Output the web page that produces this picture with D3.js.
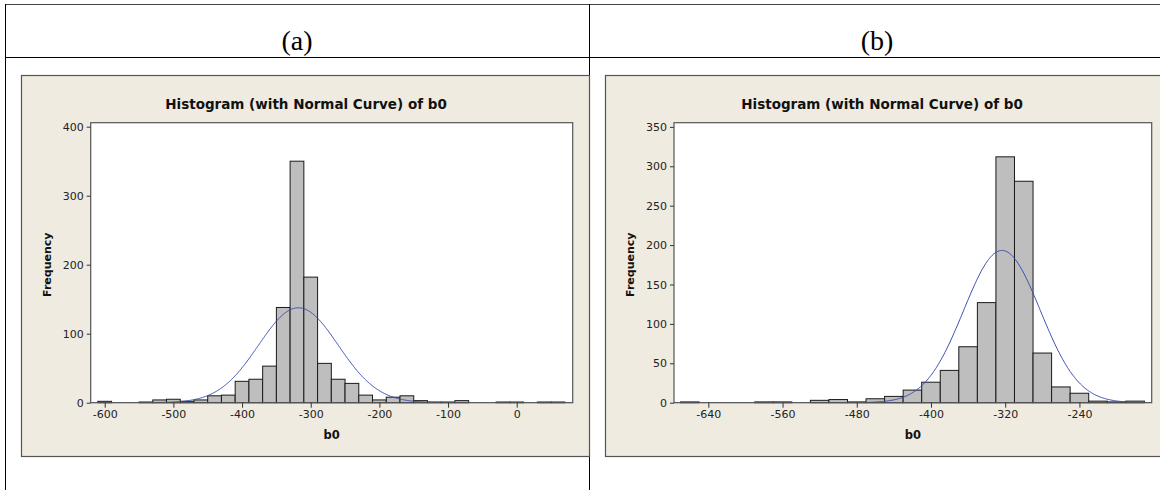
<!DOCTYPE html>
<html>
<head>
<meta charset="utf-8">
<script src="https://cdn.jsdelivr.net/npm/d3@7"></script>
<style>
  html, body { margin: 0; padding: 0; background: #ffffff; }
  svg { display: block; }
</style>
</head>
<body>
<svg id="chart" width="1160" height="490"></svg>
<script>
// ---------------- DATA ----------------
const panelLabels = ["(a)", "(b)"];
const chartTitle = "Histogram (with Normal Curve) of b0";
const xLabel = "b0";
const yLabel = "Frequency";
const binWidth = 20;

// Panel (a)
const binsA   = [-600,-540,-520,-500,-480,-460,-440,-420,-400,-380,-360,-340,-320,-300,-280,-260,-240,-220,-200,-180,-160,-140,-120,-100,-80,-20,0,40,60];
const countsA = [2,1,4,5,2,4,10,11,31,34,53,138,350,182,57,34,28,11,4,8,10,3,1,1,3,1,1,1,1];
const xTicksA = [-600,-500,-400,-300,-200,-100,0];
const yTicksA = [0,100,200,300,400];
const xDomainA = [-620.4, 81.5];
const yDomainA = [0, 405.8];
const meanA = -318, sdA = 58, nA = 1000;

// Panel (b)
const binsB   = [-660,-580,-560,-520,-500,-480,-460,-440,-420,-400,-380,-360,-340,-320,-300,-280,-260,-240,-220,-200,-180];
const countsB = [1,1,1,3,4,1,5,8,16,26,41,71,127,312,281,63,20,12,2,1,2];
const xTicksB = [-640,-560,-480,-400,-320,-240];
const yTicksB = [0,50,100,150,200,250,300,350];
const xDomainB = [-677, -162.1];
const yDomainB = [0, 355.3];
const meanB = -323.5, sdB = 41.3, nB = 1000;

// ---------------- DRAW ----------------
const svg = d3.select("#chart");
const FONT = "'DejaVu Sans', Verdana, sans-serif";

// table grid
const grid = svg.append("g").attr("stroke", "#000").attr("stroke-width", 1).attr("shape-rendering", "crispEdges");
grid.append("line").attr("x1", 5).attr("x2", 1160).attr("y1", 4.5).attr("y2", 4.5).attr("stroke", "#444");
grid.append("line").attr("x1", 5).attr("x2", 1160).attr("y1", 57.5).attr("y2", 57.5);
grid.append("line").attr("x1", 5.5).attr("x2", 5.5).attr("y1", 4).attr("y2", 490);
grid.append("line").attr("x1", 589.5).attr("x2", 589.5).attr("y1", 4).attr("y2", 490);

svg.append("text").attr("x", 297).attr("y", 50).attr("text-anchor", "middle")
  .attr("font-family", "'Liberation Serif', 'Times New Roman', serif").attr("font-size", 28)
  .attr("fill", "#000").text(panelLabels[0]);
svg.append("text").attr("x", 877).attr("y", 50).attr("text-anchor", "middle")
  .attr("font-family", "'Liberation Serif', 'Times New Roman', serif").attr("font-size", 28)
  .attr("fill", "#000").text(panelLabels[1]);

function drawPanel(cfg) {
  const g = svg.append("g");
  // panel background
  g.append("rect").attr("x", cfg.frame[0] + 0.5).attr("y", cfg.frame[1] + 0.5)
    .attr("width", cfg.frame[2] - cfg.frame[0]).attr("height", cfg.frame[3] - cfg.frame[1])
    .attr("fill", "#F0EBE0").attr("stroke", "#555").attr("stroke-width", 1.2);

  const [L, R, T, B] = cfg.plot;
  const x = d3.scaleLinear().domain(cfg.xDomain).range([L, R]);
  const y = d3.scaleLinear().domain(cfg.yDomain).range([B, T]);

  g.append("rect").attr("x", L).attr("y", T).attr("width", R - L).attr("height", B - T)
    .attr("fill", "#fff");

  const clipId = "clip" + cfg.id;
  svg.append("clipPath").attr("id", clipId).append("rect")
    .attr("x", L).attr("y", T).attr("width", R - L).attr("height", B - T);

  // bars
  g.append("g").selectAll("rect").data(cfg.bins.map((c, i) => ({c, n: cfg.counts[i]})))
    .join("rect")
    .attr("x", d => x(d.c - binWidth / 2))
    .attr("width", d => x(d.c + binWidth / 2) - x(d.c - binWidth / 2))
    .attr("y", d => y(d.n))
    .attr("height", d => y(0) - y(d.n))
    .attr("fill", "#BEBEBE").attr("stroke", "#1a1a1a").attr("stroke-width", 1);

  // normal curve
  const pdf = v => cfg.n * binWidth / (cfg.sd * Math.sqrt(2 * Math.PI)) * Math.exp(-((v - cfg.mean) ** 2) / (2 * cfg.sd * cfg.sd));
  const xs = d3.range(cfg.xDomain[0], cfg.xDomain[1], 1);
  g.append("path").datum(xs)
    .attr("clip-path", `url(#${clipId})`)
    .attr("d", d3.line().x(v => x(v)).y(v => y(pdf(v))))
    .attr("fill", "none").attr("stroke", "#3B4FB0").attr("stroke-width", 1);

  // plot border
  g.append("rect").attr("x", L).attr("y", T).attr("width", R - L).attr("height", B - T)
    .attr("fill", "none").attr("stroke", "#555").attr("stroke-width", 1.2);

  // axes
  const xAxis = d3.axisBottom(x).tickValues(cfg.xTicks).tickSize(5).tickPadding(3).tickFormat(d3.format("d"));
  const yAxis = d3.axisLeft(y).tickValues(cfg.yTicks).tickSize(4).tickPadding(3).tickFormat(d3.format("d"));
  const gx = g.append("g").attr("transform", `translate(0,${B})`).call(xAxis);
  const gy = g.append("g").attr("transform", `translate(${L},0)`).call(yAxis);
  [gx, gy].forEach(ax => {
    ax.select(".domain").remove();
    ax.selectAll(".tick line").attr("stroke", "#333");
    ax.selectAll(".tick text").attr("font-family", FONT).attr("font-size", 11).attr("fill", "#222");
  });
  gx.selectAll(".tick text").text(d => (d < 0 ? "-" : "") + Math.abs(d));
  gy.selectAll(".tick text").text(d => String(d));

  // title & labels
  g.append("text").attr("x", cfg.titleX).attr("y", 108.5).attr("text-anchor", "middle")
    .attr("font-family", FONT).attr("font-weight", "bold").attr("font-size", 13.5).attr("fill", "#111")
    .text(chartTitle);
  g.append("text").attr("x", (L + R) / 2).attr("y", 439).attr("text-anchor", "middle")
    .attr("font-family", FONT).attr("font-weight", "bold").attr("font-size", 11.5).attr("fill", "#111")
    .text(xLabel);
  g.append("text").attr("transform", `translate(${L - 40},${(T + B) / 2 + 2}) rotate(-90)`)
    .attr("text-anchor", "middle")
    .attr("font-family", FONT).attr("font-weight", "bold").attr("font-size", 11).attr("fill", "#111")
    .text(yLabel);
}

drawPanel({
  id: "A", frame: [21, 75, 589, 456], plot: [90.7, 572.7, 122.7, 402.7],
  xDomain: xDomainA, yDomain: yDomainA, bins: binsA, counts: countsA,
  xTicks: xTicksA, yTicks: yTicksA, mean: meanA, sd: sdA, n: nA, titleX: 306
});
drawPanel({
  id: "B", frame: [605, 75, 1166, 456], plot: [674, 1151.7, 122.7, 402.7],
  xDomain: xDomainB, yDomain: yDomainB, bins: binsB, counts: countsB,
  xTicks: xTicksB, yTicks: yTicksB, mean: meanB, sd: sdB, n: nB, titleX: 882
});
</script>
</body>
</html>
